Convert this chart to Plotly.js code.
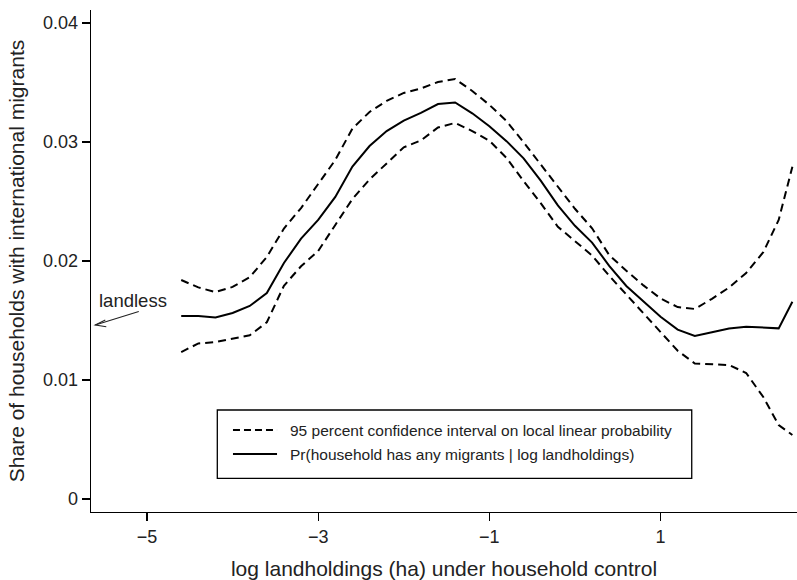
<!DOCTYPE html>
<html>
<head>
<meta charset="utf-8">
<script src="https://cdn.plot.ly/plotly-3.0.1.min.js"></script>
<style>html,body{margin:0;padding:0;background:#fff;}#chart{width:797px;height:580px;}</style>
</head>
<body>
<div id="chart"></div>
<script>
// log landholdings (ha) grid
const logLand = [-4.6,-4.4,-4.2,-4.0,-3.8,-3.6,-3.4,-3.2,-3.0,-2.8,-2.6,-2.4,-2.2,-2.0,-1.8,-1.6,-1.4,-1.2,-1.0,-0.8,-0.6,-0.4,-0.2,0.0,0.2,0.4,0.6,0.8,1.0,1.2,1.4,1.6,1.8,2.0,2.2,2.38,2.54];
// Pr(household has any migrants | log landholdings)
const probMid = [0.01538,0.01538,0.01525,0.01563,0.01622,0.01731,0.01983,0.02188,0.02345,0.02538,0.02794,0.02966,0.03092,0.03180,0.03244,0.03319,0.03332,0.03241,0.03133,0.03007,0.02863,0.02675,0.02467,0.02296,0.02155,0.01959,0.01790,0.01659,0.01532,0.01423,0.01370,0.01401,0.01432,0.01448,0.01443,0.01434,0.01658];
// 95% confidence interval, upper bound
const ciUpper = [0.01840,0.01778,0.01739,0.01782,0.01863,0.02034,0.02273,0.02445,0.02647,0.02849,0.03113,0.03252,0.03345,0.03412,0.03450,0.03504,0.03529,0.03429,0.03312,0.03176,0.02997,0.02811,0.02624,0.02439,0.02275,0.02050,0.01918,0.01795,0.01685,0.01613,0.01597,0.01682,0.01777,0.01899,0.02074,0.02345,0.02792];
// 95% confidence interval, lower bound
const ciLower = [0.01235,0.01307,0.01319,0.01349,0.01376,0.01485,0.01792,0.01956,0.02084,0.02303,0.02521,0.02685,0.02824,0.02955,0.03013,0.03122,0.03160,0.03092,0.03011,0.02866,0.02672,0.02486,0.02288,0.02165,0.02046,0.01876,0.01718,0.01558,0.01397,0.01246,0.01139,0.01130,0.01126,0.01059,0.00857,0.00622,0.00538];
// tick labels
const xTickVals = [-5,-3,-1,1];
const xTickText = ['\u22125','\u22123','\u22121','1'];
const yTickVals = [0,0.01,0.02,0.03,0.04];
const yTickText = ['0','0.01','0.02','0.03','0.04'];
// legend labels
const legendLabels = ['95 percent confidence interval on local linear probability',
                      'Pr(household has any migrants | log landholdings)'];
// landless point
const landlessX = -5.604, landlessY = 0.01462;

const font = 'Liberation Sans, Arial, Helvetica, sans-serif';
const dash = '8px,5px';
const traces = [
  {x: logLand, y: ciUpper, type:'scatter', mode:'lines', name:legendLabels[0],
   line:{color:'#000', width:2, dash:dash}},
  {x: logLand, y: probMid, type:'scatter', mode:'lines', name:legendLabels[1],
   line:{color:'#000', width:2}},
  {x: logLand, y: ciLower, type:'scatter', mode:'lines', name:'95% CI lower bound',
   line:{color:'#000', width:2, dash:dash}}
];
// legend box (paper coordinates of the plot area)
const lgX0 = 0.1789, lgX1 = 0.8509, lgY0 = 0.0671, lgY1 = 0.2032;
const lgRow = [0.1633, 0.1155];
const lgLineX = [0.2011, 0.2635], lgTextX = 0.2795;
const layout = {
  width:797, height:580,
  margin:{l:91, r:0, t:10, b:68},
  paper_bgcolor:'#fff', plot_bgcolor:'#fff',
  font:{family:font, color:'#222'},
  showlegend:false,
  xaxis:{range:[-5.654,2.594], tickvals:xTickVals, ticktext:xTickText, ticks:'outside', ticklen:8, tickwidth:1.2, tickcolor:'#000',
    showline:true, linecolor:'#000', linewidth:1.3, showgrid:false, zeroline:false, tickfont:{size:18, color:'#222'},
    title:{text:'log landholdings (ha) under household control', font:{size:21, color:'#222'}, standoff:18}, automargin:false},
  yaxis:{range:[-0.00109,0.04109], tickvals:yTickVals, ticktext:yTickText, ticks:'outside', ticklen:8, tickwidth:1.2, tickcolor:'#000',
    showline:true, linecolor:'#000', linewidth:1.3, showgrid:false, zeroline:false, tickfont:{size:18, color:'#222'},
    title:{text:'Share of households with international migrants', font:{size:21, color:'#222'}, standoff:12}, automargin:false},
  annotations:[
    {x:landlessX, y:landlessY, xref:'x', yref:'y', text:'', showarrow:true, ax:45, ay:-14, arrowhead:0, arrowwidth:1.1, arrowcolor:'#222'},
    {x:landlessX, y:landlessY, xref:'x', yref:'y', text:'landless', showarrow:false, xshift:38, yshift:25, font:{size:18.5, color:'#222'}},
    {x:lgTextX, y:lgRow[0], xref:'paper', yref:'paper', xanchor:'left', yanchor:'middle', text:legendLabels[0], showarrow:false, font:{size:15.5, color:'#222'}},
    {x:lgTextX, y:lgRow[1], xref:'paper', yref:'paper', xanchor:'left', yanchor:'middle', text:legendLabels[1], showarrow:false, font:{size:15.5, color:'#222'}}
  ],
  shapes:[
    {type:'path', xref:'x', yref:'y', xsizemode:'pixel', ysizemode:'pixel', xanchor:landlessX, yanchor:landlessY,
     path:'M 10 5 L 0 0 L 11 -1.7', line:{color:'#222', width:1.1}},
    {type:'rect', xref:'paper', yref:'paper', x0:lgX0, x1:lgX1, y0:lgY0, y1:lgY1, line:{color:'#000', width:1.3}, fillcolor:'rgba(0,0,0,0)'},
    {type:'line', xref:'paper', yref:'paper', x0:lgLineX[0], x1:lgLineX[1], y0:lgRow[0], y1:lgRow[0], line:{color:'#000', width:2, dash:'7px,4px'}},
    {type:'line', xref:'paper', yref:'paper', x0:lgLineX[0], x1:lgLineX[1], y0:lgRow[1], y1:lgRow[1], line:{color:'#000', width:2}}
  ]
};
Plotly.newPlot('chart', traces, layout, {displayModeBar:false, staticPlot:true});
</script>
</body>
</html>
